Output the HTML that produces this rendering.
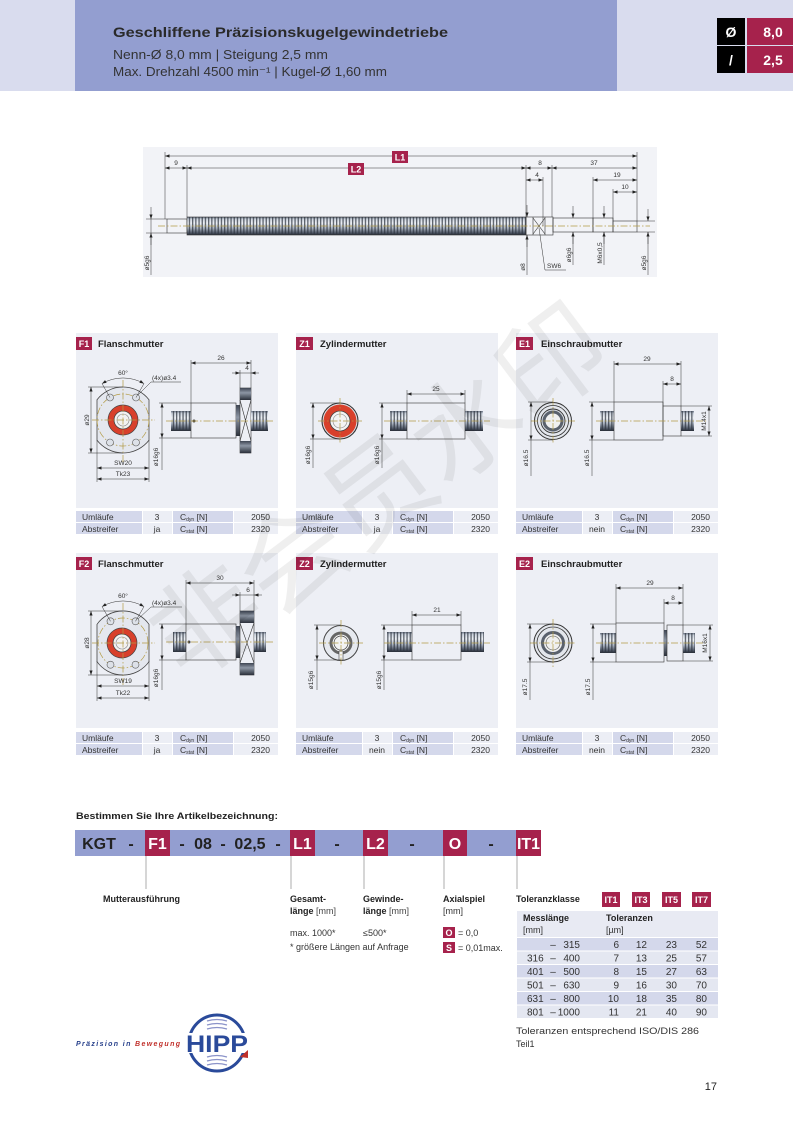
<!DOCTYPE html>
<html><head><meta charset="utf-8"><style>
html,body{margin:0;padding:0;background:#fff;}
svg{display:block;}
text{font-family:"Liberation Sans","Noto Sans CJK SC",sans-serif;}
.d{stroke:#333;stroke-width:.5;fill:none}
.da{stroke:#333;stroke-width:.5;fill:none;marker-start:url(#ar);marker-end:url(#ar)}
.de{stroke:#333;stroke-width:.5;fill:none;marker-end:url(#ar)}
.c{stroke:#b39b45;stroke-width:.7;stroke-dasharray:7 2 1.5 2;fill:none}
.t{font-size:6.5px;fill:#333}
.o{fill:none;stroke:#333;stroke-width:.6}
.tb{font-size:8.5px;fill:#333}
.dk{fill:#d4d8eb}
.lt{fill:#eceef5}
.bt{font-size:9.5px;font-weight:bold;fill:#222}
.bw{font-size:9px;font-weight:bold;fill:#fff}
.lb{font-size:9px;fill:#333}
.lbb{font-size:9px;fill:#222;font-weight:bold}
</style></head><body>
<svg width="793" height="1122" viewBox="0 0 793 1122" xmlns="http://www.w3.org/2000/svg">
<defs>
 <linearGradient id="cyl" x1="0" y1="0" x2="0" y2="1">
  <stop offset="0" stop-color="#6b7484"/>
  <stop offset="0.12" stop-color="#cdd4de"/>
  <stop offset="0.35" stop-color="#eef1f5"/>
  <stop offset="0.62" stop-color="#aab3c0"/>
  <stop offset="0.88" stop-color="#4d5564"/>
  <stop offset="1" stop-color="#262b34"/>
 </linearGradient>
 <linearGradient id="dkc" x1="0" y1="0" x2="0" y2="1">
  <stop offset="0" stop-color="#3e4552"/>
  <stop offset="0.4" stop-color="#8d96a4"/>
  <stop offset="1" stop-color="#2b303a"/>
 </linearGradient>
 <pattern id="thr" patternUnits="userSpaceOnUse" width="3.2" height="400">
  <rect x="0" y="0" width="1.3" height="400" fill="#2f3540" opacity="0.75"/>
 </pattern>
 <marker id="ar" viewBox="0 0 10 10" refX="10" refY="5" markerWidth="4.5" markerHeight="4.5" orient="auto-start-reverse" markerUnits="userSpaceOnUse">
   <path d="M0,1.5 L10,5 L0,8.5z" fill="#222"/>
 </marker>
</defs>

<!-- HEADER -->
<rect x="0" y="0" width="793" height="91" fill="#d9dcee"/>
<rect x="75" y="0" width="542" height="91" fill="#939ed0"/>
<text x="113" y="37" font-size="14" font-weight="bold" fill="#2a2a2a" textLength="335" lengthAdjust="spacingAndGlyphs">Geschliffene Präzisionskugelgewindetriebe</text>
<text x="113" y="59" font-size="13" fill="#333" textLength="215" lengthAdjust="spacingAndGlyphs">Nenn-Ø 8,0 mm  |  Steigung 2,5 mm</text>
<text x="113" y="76" font-size="13" fill="#333" textLength="274" lengthAdjust="spacingAndGlyphs">Max. Drehzahl 4500 min⁻¹  |  Kugel-Ø 1,60 mm</text>
<rect x="717" y="18" width="28" height="27" fill="#000"/>
<rect x="747" y="18" width="46" height="27" fill="#a6224c"/>
<rect x="717" y="46" width="28" height="27" fill="#000"/>
<rect x="747" y="46" width="46" height="27" fill="#a6224c"/>
<text x="731" y="37" font-size="14" font-weight="bold" fill="#fff" text-anchor="middle">Ø</text>
<text x="773" y="37" font-size="14" font-weight="bold" fill="#fff" text-anchor="middle">8,0</text>
<text x="731" y="65" font-size="14" font-weight="bold" fill="#fff" text-anchor="middle">/</text>
<text x="773" y="65" font-size="14" font-weight="bold" fill="#fff" text-anchor="middle">2,5</text>

<!-- TOP DRAWING -->
<rect x="143" y="147" width="514" height="130" fill="#f2f3f7"/>
<rect x="167" y="219" width="20" height="14" fill="url(#cyl)" class="o"/>
<rect x="187" y="217" width="339" height="18" fill="url(#cyl)"/>
<rect x="187" y="217" width="339" height="18" fill="url(#thr)"/>
<rect x="187" y="217" width="339" height="18" class="o"/>
<rect x="526" y="217" width="27" height="18" fill="url(#cyl)" class="o"/>
<path d="M533,217V235M545,217V235M533,218L545,234M545,218L533,234" class="o"/>
<rect x="553" y="218" width="40" height="14" fill="url(#cyl)" class="o"/>
<rect x="593" y="218" width="20" height="14" fill="url(#cyl)" class="o"/>
<rect x="613" y="221" width="24" height="11" fill="url(#cyl)" class="o"/>
<line x1="158" y1="226" x2="650" y2="226" class="c"/>
<path d="M165,152V219M637,152V221M187,165V217M526,165V217M552,165V217M543,177V226M593,177V218M613,189V221" class="d"/>
<line x1="165" y1="156" x2="637" y2="156" class="da"/>
<line x1="187" y1="168" x2="526" y2="168" class="da"/>
<line x1="165" y1="168" x2="187" y2="168" class="da"/>
<line x1="526" y1="168" x2="552" y2="168" class="da"/>
<line x1="552" y1="168" x2="637" y2="168" class="da"/>
<line x1="526" y1="180" x2="543" y2="180" class="da"/>
<line x1="593" y1="180" x2="637" y2="180" class="da"/>
<line x1="613" y1="192" x2="637" y2="192" class="da"/>
<rect x="392" y="151" width="16" height="12" fill="#a6224c"/>
<text x="400" y="160.5" class="bw" text-anchor="middle">L1</text>
<rect x="348" y="163" width="16" height="12" fill="#a6224c"/>
<text x="356" y="172.5" class="bw" text-anchor="middle">L2</text>
<text x="176" y="165" class="t" text-anchor="middle">9</text>
<text x="540" y="165" class="t" text-anchor="middle">8</text>
<text x="594" y="165" class="t" text-anchor="middle">37</text>
<text x="537" y="177" class="t" text-anchor="middle">4</text>
<text x="617" y="177" class="t" text-anchor="middle">19</text>
<text x="625" y="189" class="t" text-anchor="middle">10</text>
<path d="M146,219H167M146,233H167M637,221H655M637,232H655" class="d"/>
<line x1="151" y1="207" x2="151" y2="219" class="de"/>
<line x1="151" y1="245" x2="151" y2="233" class="de"/>
<line x1="151" y1="219" x2="151" y2="275" class="d"/>
<line x1="648" y1="209" x2="648" y2="221" class="de"/>
<line x1="648" y1="244" x2="648" y2="232" class="de"/>
<line x1="648" y1="232" x2="648" y2="275" class="d"/>
<line x1="527" y1="205" x2="527" y2="217" class="de"/>
<line x1="527" y1="247" x2="527" y2="235" class="de"/>
<line x1="527" y1="235" x2="527" y2="275" class="d"/>
<line x1="573" y1="206" x2="573" y2="218" class="de"/>
<line x1="573" y1="244" x2="573" y2="232" class="de"/>
<line x1="573" y1="232" x2="573" y2="265" class="d"/>
<line x1="604" y1="206" x2="604" y2="218" class="de"/>
<line x1="604" y1="244" x2="604" y2="232" class="de"/>
<line x1="604" y1="232" x2="604" y2="265" class="d"/>
<path d="M539,228L545,270H566" class="d"/>
<text transform="translate(149,263) rotate(-90)" class="t" text-anchor="middle">ø5g6</text>
<text transform="translate(646,263) rotate(-90)" class="t" text-anchor="middle">ø5g6</text>
<text transform="translate(525,267) rotate(-90)" class="t" text-anchor="middle">ø8</text>
<text transform="translate(571,255) rotate(-90)" class="t" text-anchor="middle">ø6g6</text>
<text transform="translate(602,253) rotate(-90)" class="t" text-anchor="middle">M6x0,5</text>
<text x="547" y="268" class="t">SW6</text>

<!-- PANEL BACKGROUNDS -->
<rect x="76" y="333" width="202" height="175" fill="#edeff5"/>
<rect x="296" y="333" width="202" height="175" fill="#edeff5"/>
<rect x="516" y="333" width="202" height="175" fill="#edeff5"/>
<rect x="76" y="553" width="202" height="175" fill="#edeff5"/>
<rect x="296" y="553" width="202" height="175" fill="#edeff5"/>
<rect x="516" y="553" width="202" height="175" fill="#edeff5"/>

<rect x="76" y="337" width="16" height="13" fill="#a6224c"/><text x="84" y="347" class="bw" text-anchor="middle">F1</text><text x="98" y="347" class="bt">Flanschmutter</text>
<rect x="296" y="337" width="17" height="13" fill="#a6224c"/><text x="304.5" y="347" class="bw" text-anchor="middle">Z1</text><text x="320" y="347" class="bt">Zylindermutter</text>
<rect x="516" y="337" width="17" height="13" fill="#a6224c"/><text x="524.5" y="347" class="bw" text-anchor="middle">E1</text><text x="541" y="347" class="bt">Einschraubmutter</text>
<rect x="76" y="557" width="16" height="13" fill="#a6224c"/><text x="84" y="567" class="bw" text-anchor="middle">F2</text><text x="98" y="567" class="bt">Flanschmutter</text>
<rect x="296" y="557" width="17" height="13" fill="#a6224c"/><text x="304.5" y="567" class="bw" text-anchor="middle">Z2</text><text x="320" y="567" class="bt">Zylindermutter</text>
<rect x="516" y="557" width="17" height="13" fill="#a6224c"/><text x="524.5" y="567" class="bw" text-anchor="middle">E2</text><text x="541" y="567" class="bt">Einschraubmutter</text>

<!-- F1 -->
<path d="M97,399.7A33,33 0 0 1 149,399.7L149,440.3A33,33 0 0 1 97,440.3Z" fill="#e4e7ee" stroke="#444" stroke-width="0.8"/>
<circle cx="123" cy="420" r="26" class="c"/>
<g fill="#dde1e8" stroke="#555" stroke-width="0.6">
<circle cx="110" cy="397.5" r="3.5"/><circle cx="136" cy="397.5" r="3.5"/><circle cx="110" cy="442.5" r="3.5"/><circle cx="136" cy="442.5" r="3.5"/></g>
<circle cx="123" cy="420" r="15" fill="#d8402b" stroke="#444" stroke-width="0.7"/>
<circle cx="123" cy="420" r="9" fill="#f2f2f2" stroke="#444" stroke-width="0.8"/>
<circle cx="123" cy="420" r="6" fill="none" stroke="#888" stroke-width="0.6"/>
<path d="M92,420H155M123,380V462" class="c"/>
<path d="M110,397.5L102,383.6M136,397.5L144,383.6" class="d"/>
<path d="M102,383.6A42,42 0 0 1 144,383.6" class="da"/>
<text x="123" y="375" class="t" text-anchor="middle">60°</text>
<text x="152" y="380" class="t">(4x)ø3.4</text>
<path d="M151,382H181M151,382L138,395" class="d"/>
<path d="M88,387H123M88,453H123" class="d"/>
<line x1="91" y1="387" x2="91" y2="453" class="da"/>
<text transform="translate(89,420) rotate(-90)" class="t" text-anchor="middle">ø29</text>
<path d="M97,440V482M149,440V482" class="d"/>
<line x1="97" y1="468" x2="149" y2="468" class="da"/>
<line x1="97" y1="479" x2="149" y2="479" class="da"/>
<text x="123" y="465" class="t" text-anchor="middle">SW20</text>
<text x="123" y="476" class="t" text-anchor="middle">Tk23</text>
<path d="M159,403H191M159,438H191" class="d"/>
<line x1="162" y1="403" x2="162" y2="438" class="da"/>
<line x1="162" y1="438" x2="162" y2="470" class="d"/>
<text transform="translate(158,457) rotate(-90)" class="t" text-anchor="middle">ø16g6</text>
<rect x="171" y="411" width="20" height="20" fill="url(#cyl)"/><rect x="171" y="411" width="20" height="20" fill="url(#thr)"/>
<rect x="191" y="403" width="45" height="35" fill="url(#cyl)" class="o"/>
<rect x="236" y="405" width="4" height="31" fill="url(#dkc)"/>
<rect x="240" y="388" width="11" height="65" fill="#a8b0bc" class="o"/>
<rect x="240" y="388" width="11" height="12" fill="url(#dkc)"/>
<rect x="240" y="441" width="11" height="12" fill="url(#dkc)"/>
<path d="M240,400L251,441M251,400L240,441" class="o"/>
<rect x="251" y="411" width="17" height="20" fill="url(#cyl)"/><rect x="251" y="411" width="17" height="20" fill="url(#thr)"/>
<circle cx="194" cy="421" r="1.5" fill="#444"/>
<line x1="166" y1="421" x2="274" y2="421" class="c"/>
<path d="M191,360V403M251,360V388M240,370V388" class="d"/>
<line x1="191" y1="363" x2="251" y2="363" class="da"/>
<text x="221" y="360" class="t" text-anchor="middle">26</text>
<line x1="232" y1="373" x2="240" y2="373" class="de"/>
<line x1="259" y1="373" x2="251" y2="373" class="de"/>
<line x1="240" y1="373" x2="251" y2="373" class="d"/>
<text x="247" y="370" class="t" text-anchor="middle">4</text>

<!-- Z1 -->
<circle cx="340" cy="421" r="18" fill="#dfe3ea" stroke="#333" stroke-width="1.1"/>
<circle cx="340" cy="421" r="16.5" fill="#d8402b"/>
<circle cx="340" cy="421" r="10" fill="#f3f3f3" stroke="#444" stroke-width="0.8"/>
<circle cx="340" cy="421" r="7" fill="none" stroke="#888" stroke-width="0.6"/>
<path d="M318,421H362M340,398V444" class="c"/>
<path d="M310,403H340M310,439H340" class="d"/>
<line x1="313" y1="403" x2="313" y2="439" class="da"/>
<line x1="313" y1="439" x2="313" y2="468" class="d"/>
<text transform="translate(310,455) rotate(-90)" class="t" text-anchor="middle">ø16g6</text>
<path d="M379,403H407M379,439H407" class="d"/>
<line x1="382" y1="403" x2="382" y2="439" class="da"/>
<line x1="382" y1="439" x2="382" y2="468" class="d"/>
<text transform="translate(379,455) rotate(-90)" class="t" text-anchor="middle">ø16g6</text>
<rect x="390" y="411" width="17" height="20" fill="url(#cyl)"/><rect x="390" y="411" width="17" height="20" fill="url(#thr)"/>
<rect x="407" y="403" width="58" height="36" fill="url(#cyl)" class="o"/>
<rect x="465" y="411" width="18" height="20" fill="url(#cyl)"/><rect x="465" y="411" width="18" height="20" fill="url(#thr)"/>
<line x1="384" y1="421" x2="490" y2="421" class="c"/>
<path d="M407,390V403M465,390V403" class="d"/>
<line x1="407" y1="394" x2="465" y2="394" class="da"/>
<text x="436" y="391" class="t" text-anchor="middle">25</text>

<!-- E1 -->
<circle cx="553" cy="421" r="18.5" fill="#e3e6ec" stroke="#333" stroke-width="1"/>
<circle cx="553" cy="421" r="15.5" fill="none" stroke="#333" stroke-width="0.8"/>
<circle cx="553" cy="421" r="12" fill="#d9dde4" stroke="#333" stroke-width="0.9"/>
<circle cx="553" cy="421" r="9" fill="#f0f0f0" stroke="#5a616d" stroke-width="3"/>
<path d="M531,421H575M553,398V444" class="c"/>
<path d="M528,402H553M528,440H553" class="d"/>
<line x1="531" y1="402" x2="531" y2="440" class="da"/>
<line x1="531" y1="440" x2="531" y2="476" class="d"/>
<text transform="translate(528,458) rotate(-90)" class="t" text-anchor="middle">ø16.5</text>
<path d="M589,402H614M589,440H614" class="d"/>
<line x1="592" y1="402" x2="592" y2="440" class="da"/>
<line x1="592" y1="440" x2="592" y2="476" class="d"/>
<text transform="translate(589,458) rotate(-90)" class="t" text-anchor="middle">ø16.5</text>
<rect x="600" y="411" width="14" height="20" fill="url(#cyl)"/><rect x="600" y="411" width="14" height="20" fill="url(#thr)"/>
<rect x="614" y="402" width="49" height="38" fill="url(#cyl)" class="o"/>
<rect x="663" y="406" width="18" height="30" fill="url(#cyl)" class="o"/>
<rect x="681" y="411" width="13" height="20" fill="url(#cyl)"/><rect x="681" y="411" width="13" height="20" fill="url(#thr)"/>
<line x1="596" y1="421" x2="706" y2="421" class="c"/>
<path d="M614,361V402M681,361V406M663,381V406" class="d"/>
<line x1="614" y1="364" x2="681" y2="364" class="da"/>
<line x1="663" y1="384" x2="681" y2="384" class="da"/>
<text x="647" y="361" class="t" text-anchor="middle">29</text>
<text x="672" y="381" class="t" text-anchor="middle">8</text>
<path d="M681,406H712M681,436H712" class="d"/>
<line x1="709" y1="406" x2="709" y2="436" class="da"/>
<text transform="translate(706,421) rotate(-90)" class="t" text-anchor="middle">M14x1</text>

<!-- F2 -->
<path d="M97,624.3A32,32 0 0 1 149,624.3L149,661.7A32,32 0 0 1 97,661.7Z" fill="#e4e7ee" stroke="#444" stroke-width="0.8"/>
<circle cx="123" cy="643" r="25" class="c"/>
<g fill="#dde1e8" stroke="#555" stroke-width="0.6">
<circle cx="110.5" cy="621.3" r="3.5"/><circle cx="135.5" cy="621.3" r="3.5"/><circle cx="110.5" cy="664.7" r="3.5"/><circle cx="135.5" cy="664.7" r="3.5"/></g>
<circle cx="122" cy="643" r="15" fill="#d8402b" stroke="#444" stroke-width="0.7"/>
<circle cx="122" cy="643" r="9" fill="#f2f2f2" stroke="#444" stroke-width="0.8"/>
<circle cx="122" cy="643" r="6" fill="none" stroke="#888" stroke-width="0.6"/>
<path d="M92,643H155M123,603V685" class="c"/>
<path d="M110.5,621.3L102,606.6M135.5,621.3L144,606.6" class="d"/>
<path d="M102,606.6A42,42 0 0 1 144,606.6" class="da"/>
<text x="123" y="598" class="t" text-anchor="middle">60°</text>
<text x="152" y="605" class="t">(4x)ø3.4</text>
<path d="M151,607H182M151,607L138,619" class="d"/>
<path d="M88,611H123M88,675H123" class="d"/>
<line x1="91" y1="611" x2="91" y2="675" class="da"/>
<text transform="translate(89,643) rotate(-90)" class="t" text-anchor="middle">ø28</text>
<path d="M97,661V701M149,661V701" class="d"/>
<line x1="97" y1="686" x2="149" y2="686" class="da"/>
<line x1="97" y1="698" x2="149" y2="698" class="da"/>
<text x="123" y="683" class="t" text-anchor="middle">SW19</text>
<text x="123" y="695" class="t" text-anchor="middle">Tk22</text>
<path d="M159,624H186M159,660H186" class="d"/>
<line x1="162" y1="624" x2="162" y2="660" class="da"/>
<line x1="162" y1="660" x2="162" y2="690" class="d"/>
<text transform="translate(158,678) rotate(-90)" class="t" text-anchor="middle">ø16g6</text>
<rect x="173" y="632" width="13" height="20" fill="url(#cyl)"/><rect x="173" y="632" width="13" height="20" fill="url(#thr)"/>
<rect x="186" y="624" width="50" height="36" fill="url(#cyl)" class="o"/>
<rect x="236" y="626" width="4" height="32" fill="url(#dkc)"/>
<rect x="240" y="611" width="14" height="64" fill="#a8b0bc" class="o"/>
<rect x="240" y="611" width="14" height="12" fill="url(#dkc)"/>
<rect x="240" y="663" width="14" height="12" fill="url(#dkc)"/>
<path d="M240,623L254,663M254,623L240,663" class="o"/>
<rect x="254" y="632" width="12" height="20" fill="url(#cyl)"/><rect x="254" y="632" width="12" height="20" fill="url(#thr)"/>
<circle cx="189" cy="642" r="1.5" fill="#444"/>
<line x1="166" y1="642" x2="274" y2="642" class="c"/>
<path d="M186,580V624M254,580V611M240,592V611" class="d"/>
<line x1="186" y1="583" x2="254" y2="583" class="da"/>
<text x="220" y="580" class="t" text-anchor="middle">30</text>
<line x1="232" y1="595" x2="240" y2="595" class="de"/>
<line x1="262" y1="595" x2="254" y2="595" class="de"/>
<line x1="240" y1="595" x2="254" y2="595" class="d"/>
<text x="248" y="592" class="t" text-anchor="middle">6</text>

<!-- Z2 -->
<circle cx="341" cy="643" r="17.5" fill="#e6e9ef" stroke="#444" stroke-width="1"/>
<circle cx="341" cy="643" r="10" fill="#f3f3f3" stroke="#666" stroke-width="3"/>
<circle cx="341" cy="643" r="7" fill="#f3f3f3" stroke="#444" stroke-width="0.7"/>
<rect x="339" y="651" width="4" height="9" fill="#f3f3f3" stroke="#444" stroke-width="0.6"/>
<path d="M319,643H363M341,620V666" class="c"/>
<path d="M314,625H341M314,660H341" class="d"/>
<line x1="317" y1="625" x2="317" y2="660" class="da"/>
<line x1="317" y1="660" x2="317" y2="690" class="d"/>
<text transform="translate(313,680) rotate(-90)" class="t" text-anchor="middle">ø15g6</text>
<path d="M381,625H412M381,660H412" class="d"/>
<line x1="384" y1="625" x2="384" y2="660" class="da"/>
<line x1="384" y1="660" x2="384" y2="690" class="d"/>
<text transform="translate(381,680) rotate(-90)" class="t" text-anchor="middle">ø15g6</text>
<rect x="387" y="632" width="25" height="20" fill="url(#cyl)"/><rect x="387" y="632" width="25" height="20" fill="url(#thr)"/>
<rect x="412" y="625" width="49" height="35" fill="url(#cyl)" class="o"/>
<rect x="461" y="632" width="23" height="20" fill="url(#cyl)"/><rect x="461" y="632" width="23" height="20" fill="url(#thr)"/>
<line x1="384" y1="643" x2="490" y2="643" class="c"/>
<path d="M412,611V625M461,611V625" class="d"/>
<line x1="412" y1="615" x2="461" y2="615" class="da"/>
<text x="437" y="612" class="t" text-anchor="middle">21</text>

<!-- E2 -->
<circle cx="553" cy="643" r="19" fill="#e3e6ec" stroke="#333" stroke-width="1"/>
<circle cx="553" cy="643" r="16" fill="none" stroke="#333" stroke-width="0.8"/>
<circle cx="553" cy="643" r="10.5" fill="#f0f0f0" stroke="#5a616d" stroke-width="3"/>
<circle cx="553" cy="643" r="7" fill="#f0f0f0" stroke="#555" stroke-width="0.6"/>
<path d="M530,643H576M553,619V667" class="c"/>
<path d="M527,624H553M527,662H553" class="d"/>
<line x1="530" y1="624" x2="530" y2="662" class="da"/>
<line x1="530" y1="662" x2="530" y2="700" class="d"/>
<text transform="translate(527,687) rotate(-90)" class="t" text-anchor="middle">ø17.5</text>
<path d="M590,624H616M590,662H616" class="d"/>
<line x1="593" y1="624" x2="593" y2="662" class="da"/>
<line x1="593" y1="662" x2="593" y2="700" class="d"/>
<text transform="translate(590,687) rotate(-90)" class="t" text-anchor="middle">ø17.5</text>
<rect x="600" y="633" width="16" height="20" fill="url(#cyl)"/><rect x="600" y="633" width="16" height="20" fill="url(#thr)"/>
<rect x="616" y="623" width="48" height="39" fill="url(#cyl)" class="o"/>
<rect x="664" y="630" width="3" height="26" fill="url(#dkc)"/>
<rect x="667" y="625" width="16" height="36" fill="url(#cyl)" class="o"/>
<rect x="683" y="633" width="12" height="20" fill="url(#cyl)"/><rect x="683" y="633" width="12" height="20" fill="url(#thr)"/>
<line x1="596" y1="643" x2="706" y2="643" class="c"/>
<path d="M616,584V623M683,584V625M664,599V623" class="d"/>
<line x1="616" y1="588" x2="683" y2="588" class="da"/>
<line x1="664" y1="603" x2="683" y2="603" class="da"/>
<text x="650" y="585" class="t" text-anchor="middle">29</text>
<text x="673" y="600" class="t" text-anchor="middle">8</text>
<path d="M683,625H713M683,661H713" class="d"/>
<line x1="710" y1="625" x2="710" y2="661" class="da"/>
<text transform="translate(707,643) rotate(-90)" class="t" text-anchor="middle">M16x1</text>

<!-- TABLES -->
<g>
<rect x="76" y="511" width="66" height="11" class="dk"/><rect x="143" y="511" width="29" height="11" class="lt"/><rect x="173" y="511" width="60" height="11" class="dk"/><rect x="234" y="511" width="44" height="11" class="lt"/>
<rect x="76" y="523" width="66" height="11" class="dk"/><rect x="143" y="523" width="29" height="11" class="lt"/><rect x="173" y="523" width="60" height="11" class="dk"/><rect x="234" y="523" width="44" height="11" class="lt"/>
<rect x="296" y="511" width="66" height="11" class="dk"/><rect x="363" y="511" width="29" height="11" class="lt"/><rect x="393" y="511" width="60" height="11" class="dk"/><rect x="454" y="511" width="44" height="11" class="lt"/>
<rect x="296" y="523" width="66" height="11" class="dk"/><rect x="363" y="523" width="29" height="11" class="lt"/><rect x="393" y="523" width="60" height="11" class="dk"/><rect x="454" y="523" width="44" height="11" class="lt"/>
<rect x="516" y="511" width="66" height="11" class="dk"/><rect x="583" y="511" width="29" height="11" class="lt"/><rect x="613" y="511" width="60" height="11" class="dk"/><rect x="674" y="511" width="44" height="11" class="lt"/>
<rect x="516" y="523" width="66" height="11" class="dk"/><rect x="583" y="523" width="29" height="11" class="lt"/><rect x="613" y="523" width="60" height="11" class="dk"/><rect x="674" y="523" width="44" height="11" class="lt"/>
<rect x="76" y="732" width="66" height="11" class="dk"/><rect x="143" y="732" width="29" height="11" class="lt"/><rect x="173" y="732" width="60" height="11" class="dk"/><rect x="234" y="732" width="44" height="11" class="lt"/>
<rect x="76" y="744" width="66" height="11" class="dk"/><rect x="143" y="744" width="29" height="11" class="lt"/><rect x="173" y="744" width="60" height="11" class="dk"/><rect x="234" y="744" width="44" height="11" class="lt"/>
<rect x="296" y="732" width="66" height="11" class="dk"/><rect x="363" y="732" width="29" height="11" class="lt"/><rect x="393" y="732" width="60" height="11" class="dk"/><rect x="454" y="732" width="44" height="11" class="lt"/>
<rect x="296" y="744" width="66" height="11" class="dk"/><rect x="363" y="744" width="29" height="11" class="lt"/><rect x="393" y="744" width="60" height="11" class="dk"/><rect x="454" y="744" width="44" height="11" class="lt"/>
<rect x="516" y="732" width="66" height="11" class="dk"/><rect x="583" y="732" width="29" height="11" class="lt"/><rect x="613" y="732" width="60" height="11" class="dk"/><rect x="674" y="732" width="44" height="11" class="lt"/>
<rect x="516" y="744" width="66" height="11" class="dk"/><rect x="583" y="744" width="29" height="11" class="lt"/><rect x="613" y="744" width="60" height="11" class="dk"/><rect x="674" y="744" width="44" height="11" class="lt"/>
</g>
<g class="tb">
<text x="82" y="520">Umläufe</text><text x="157" y="520" text-anchor="middle">3</text><text x="180" y="520">C<tspan font-size="5" dy="1">dyn</tspan><tspan dy="-1"> [N]</tspan></text><text x="270" y="520" text-anchor="end">2050</text>
<text x="82" y="532">Abstreifer</text><text x="157" y="532" text-anchor="middle">ja</text><text x="180" y="532">C<tspan font-size="5" dy="1">stat</tspan><tspan dy="-1"> [N]</tspan></text><text x="270" y="532" text-anchor="end">2320</text>
<text x="302" y="520">Umläufe</text><text x="377" y="520" text-anchor="middle">3</text><text x="400" y="520">C<tspan font-size="5" dy="1">dyn</tspan><tspan dy="-1"> [N]</tspan></text><text x="490" y="520" text-anchor="end">2050</text>
<text x="302" y="532">Abstreifer</text><text x="377" y="532" text-anchor="middle">ja</text><text x="400" y="532">C<tspan font-size="5" dy="1">stat</tspan><tspan dy="-1"> [N]</tspan></text><text x="490" y="532" text-anchor="end">2320</text>
<text x="522" y="520">Umläufe</text><text x="597" y="520" text-anchor="middle">3</text><text x="620" y="520">C<tspan font-size="5" dy="1">dyn</tspan><tspan dy="-1"> [N]</tspan></text><text x="710" y="520" text-anchor="end">2050</text>
<text x="522" y="532">Abstreifer</text><text x="597" y="532" text-anchor="middle">nein</text><text x="620" y="532">C<tspan font-size="5" dy="1">stat</tspan><tspan dy="-1"> [N]</tspan></text><text x="710" y="532" text-anchor="end">2320</text>
<text x="82" y="741">Umläufe</text><text x="157" y="741" text-anchor="middle">3</text><text x="180" y="741">C<tspan font-size="5" dy="1">dyn</tspan><tspan dy="-1"> [N]</tspan></text><text x="270" y="741" text-anchor="end">2050</text>
<text x="82" y="753">Abstreifer</text><text x="157" y="753" text-anchor="middle">ja</text><text x="180" y="753">C<tspan font-size="5" dy="1">stat</tspan><tspan dy="-1"> [N]</tspan></text><text x="270" y="753" text-anchor="end">2320</text>
<text x="302" y="741">Umläufe</text><text x="377" y="741" text-anchor="middle">3</text><text x="400" y="741">C<tspan font-size="5" dy="1">dyn</tspan><tspan dy="-1"> [N]</tspan></text><text x="490" y="741" text-anchor="end">2050</text>
<text x="302" y="753">Abstreifer</text><text x="377" y="753" text-anchor="middle">nein</text><text x="400" y="753">C<tspan font-size="5" dy="1">stat</tspan><tspan dy="-1"> [N]</tspan></text><text x="490" y="753" text-anchor="end">2320</text>
<text x="522" y="741">Umläufe</text><text x="597" y="741" text-anchor="middle">3</text><text x="620" y="741">C<tspan font-size="5" dy="1">dyn</tspan><tspan dy="-1"> [N]</tspan></text><text x="710" y="741" text-anchor="end">2050</text>
<text x="522" y="753">Abstreifer</text><text x="597" y="753" text-anchor="middle">nein</text><text x="620" y="753">C<tspan font-size="5" dy="1">stat</tspan><tspan dy="-1"> [N]</tspan></text><text x="710" y="753" text-anchor="end">2320</text>
</g>

<!-- WATERMARK -->
<text transform="translate(402,522) rotate(-37)" text-anchor="middle" font-size="108" fill="#000" opacity="0.06" font-family="Noto Sans CJK SC, sans-serif">非会员水印</text>

<!-- ORDER CODE -->
<text x="76" y="819" font-size="9" font-weight="bold" fill="#222" textLength="202" lengthAdjust="spacingAndGlyphs">Bestimmen Sie Ihre Artikelbezeichnung:</text>
<rect x="75" y="830" width="466" height="26" fill="#939ed0"/>
<rect x="145" y="830" width="25" height="26" fill="#a6224c"/>
<rect x="290" y="830" width="25" height="26" fill="#a6224c"/>
<rect x="363" y="830" width="25" height="26" fill="#a6224c"/>
<rect x="443" y="830" width="24" height="26" fill="#a6224c"/>
<rect x="516" y="830" width="25" height="26" fill="#a6224c"/>
<g font-size="16" font-weight="bold" fill="#222" text-anchor="middle">
<text x="99" y="849">KGT</text>
<text x="131" y="849">-</text>
<text x="182" y="849">-</text>
<text x="203" y="849">08</text>
<text x="223" y="849">-</text>
<text x="250" y="849">02,5</text>
<text x="278" y="849">-</text>
<text x="337" y="849">-</text>
<text x="412" y="849">-</text>
<text x="491" y="849">-</text>
</g>
<g font-size="16" font-weight="bold" fill="#fff" text-anchor="middle">
<text x="157.5" y="849">F1</text>
<text x="302.5" y="849">L1</text>
<text x="375.5" y="849">L2</text>
<text x="455" y="849">O</text>
<text x="528.5" y="849">IT1</text>
</g>
<path d="M146,856V889M291,856V889M364,856V889M444,856V889M517,856V889" stroke="#999" stroke-width="0.8" fill="none"/>
<text x="103" y="902" class="lbb">Mutterausführung</text>
<text x="290" y="902" class="lbb">Gesamt-</text>
<text x="290" y="914" class="lbb">länge <tspan font-weight="normal" fill="#444">[mm]</tspan></text>
<text x="363" y="902" class="lbb">Gewinde-</text>
<text x="363" y="914" class="lbb">länge <tspan font-weight="normal" fill="#444">[mm]</tspan></text>
<text x="443" y="902" class="lbb">Axialspiel</text>
<text x="443" y="914" class="lb">[mm]</text>
<text x="290" y="936" class="lb">max. 1000*</text>
<text x="363" y="936" class="lb">≤500*</text>
<text x="290" y="950" class="lb">* größere Längen auf Anfrage</text>
<rect x="443" y="927" width="12" height="11" fill="#a6224c"/><text x="449" y="936" class="bw" text-anchor="middle">O</text>
<text x="458" y="936" class="lb">= 0,0</text>
<rect x="443" y="942" width="12" height="11" fill="#a6224c"/><text x="449" y="951" class="bw" text-anchor="middle">S</text>
<text x="458" y="951" class="lb">= 0,01max.</text>

<!-- TOLERANCE -->
<text x="516" y="902" class="lbb">Toleranzklasse</text>
<rect x="602" y="892" width="18" height="15" fill="#a6224c"/><text x="611" y="903" class="bw" text-anchor="middle">IT1</text>
<rect x="632" y="892" width="18" height="15" fill="#a6224c"/><text x="641" y="903" class="bw" text-anchor="middle">IT3</text>
<rect x="662" y="892" width="19" height="15" fill="#a6224c"/><text x="671.5" y="903" class="bw" text-anchor="middle">IT5</text>
<rect x="692" y="892" width="19" height="15" fill="#a6224c"/><text x="701.5" y="903" class="bw" text-anchor="middle">IT7</text>
<rect x="517" y="911" width="201" height="26" fill="#e8eaf3"/>
<text x="523" y="921" class="lbb">Messlänge</text>
<text x="523" y="933" class="lb">[mm]</text>
<text x="606" y="921" class="lbb">Toleranzen</text>
<text x="606" y="933" class="lb">[µm]</text>
<rect x="517" y="938" width="201" height="12.5" fill="#d4d8eb"/>
<rect x="517" y="951.5" width="201" height="12.5" fill="#e4e7f1"/>
<rect x="517" y="965" width="201" height="12.5" fill="#d4d8eb"/>
<rect x="517" y="978.5" width="201" height="12.5" fill="#e4e7f1"/>
<rect x="517" y="992" width="201" height="12.5" fill="#d4d8eb"/>
<rect x="517" y="1005.5" width="201" height="12.5" fill="#e4e7f1"/>
<g font-size="10" fill="#333">
<text x="553" y="948" text-anchor="middle">–</text><text x="580" y="948" text-anchor="end">315</text>
<text x="527" y="961.5">316</text><text x="553" y="961.5" text-anchor="middle">–</text><text x="580" y="961.5" text-anchor="end">400</text>
<text x="527" y="975">401</text><text x="553" y="975" text-anchor="middle">–</text><text x="580" y="975" text-anchor="end">500</text>
<text x="527" y="988.5">501</text><text x="553" y="988.5" text-anchor="middle">–</text><text x="580" y="988.5" text-anchor="end">630</text>
<text x="527" y="1002">631</text><text x="553" y="1002" text-anchor="middle">–</text><text x="580" y="1002" text-anchor="end">800</text>
<text x="527" y="1015.5">801</text><text x="553" y="1015.5" text-anchor="middle">–</text><text x="580" y="1015.5" text-anchor="end">1000</text>
</g>
<g font-size="10" fill="#333" text-anchor="end">
<text x="619" y="948">6</text><text x="647" y="948">12</text><text x="677" y="948">23</text><text x="707" y="948">52</text>
<text x="619" y="961.5">7</text><text x="647" y="961.5">13</text><text x="677" y="961.5">25</text><text x="707" y="961.5">57</text>
<text x="619" y="975">8</text><text x="647" y="975">15</text><text x="677" y="975">27</text><text x="707" y="975">63</text>
<text x="619" y="988.5">9</text><text x="647" y="988.5">16</text><text x="677" y="988.5">30</text><text x="707" y="988.5">70</text>
<text x="619" y="1002">10</text><text x="647" y="1002">18</text><text x="677" y="1002">35</text><text x="707" y="1002">80</text>
<text x="619" y="1015.5">11</text><text x="647" y="1015.5">21</text><text x="677" y="1015.5">40</text><text x="707" y="1015.5">90</text>
</g>
<text x="516" y="1034" class="lb" textLength="183" lengthAdjust="spacingAndGlyphs">Toleranzen entsprechend ISO/DIS 286</text>
<text x="516" y="1047" class="lb">Teil1</text>

<!-- LOGO -->
<text x="76" y="1046" font-size="7" font-weight="bold" font-style="italic" fill="#27408b" textLength="104" lengthAdjust="spacing">Präzision in <tspan fill="#c0302b">Bewegung</tspan></text>
<circle cx="217" cy="1043" r="28" fill="none" stroke="#2a4a9a" stroke-width="3"/>
<g stroke="#8b93c9" stroke-width="1.3" fill="none">
<path d="M207,1021Q217,1018 227,1021M207,1025Q217,1022 227,1025M207,1029Q217,1026 227,1029"/>
<path d="M207,1057Q217,1054 227,1057M207,1061Q217,1058 227,1061M207,1065Q217,1062 227,1065"/>
</g>
<rect x="184" y="1033" width="66" height="20" fill="#fff"/>
<text x="217" y="1052" font-size="24" font-weight="bold" fill="#2a4a9a" text-anchor="middle" textLength="62" lengthAdjust="spacingAndGlyphs">HIPP</text>
<path d="M240,1057L248,1050L248,1058Z" fill="#c0302b"/>

<!-- PAGE NUMBER -->
<text x="717" y="1090" font-size="11" fill="#222" text-anchor="end">17</text>
</svg>
</body></html>
